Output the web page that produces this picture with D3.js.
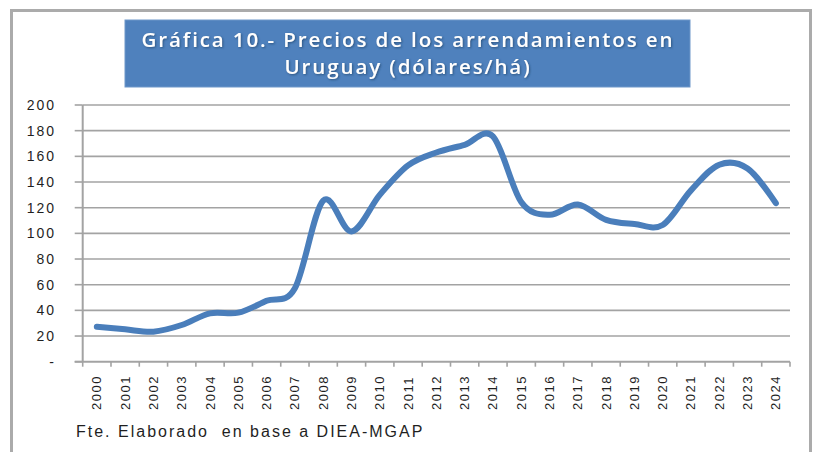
<!DOCTYPE html>
<html>
<head>
<meta charset="utf-8">
<script src="https://cdn.jsdelivr.net/npm/d3@7"></script>
<style>
  html, body { margin: 0; padding: 0; background: #fff; }
  svg { display: block; }
</style>
</head>
<body>
<svg id="chart" width="816" height="452"></svg>
<script>
"use strict";

// chart data
const titleLines = ["Gráfica 10.- Precios de los arrendamientos en", "Uruguay (dólares/há)"];
const sourceNote = "Fte. Elaborado  en base a DIEA-MGAP";
const years = ["2000", "2001", "2002", "2003", "2004", "2005", "2006", "2007", "2008", "2009",
    "2010", "2011", "2012", "2013", "2014", "2015", "2016", "2017", "2018", "2019",
    "2020", "2021", "2022", "2023", "2024"];
const prices = [27.3, 25.2, 23.4, 28.6, 37.7, 38.2, 47.5, 57.2, 125.5, 101.5,
    130, 153, 163, 169, 175.5, 124.5, 114.5, 122.5, 110.5, 107.3,
    106.5, 133.5, 153.5, 150.5, 123.5];
const yTicks = [0, 20, 40, 60, 80, 100, 120, 140, 160, 180, 200];
const yTickLabels = ["-", "20", "40", "60", "80", "100", "120", "140", "160", "180", "200"];

const svg = d3.select("#chart");

const plot = {left: 82.7, right: 790, top: 105, bottom: 361.7};

const x = d3.scaleBand()
    .domain(years)
    .range([plot.left, plot.right]);

const y = d3.scaleLinear()
    .domain([0, 200])
    .range([plot.bottom, plot.top]);

const defs = svg.append("defs");
defs.append("filter")
    .attr("id", "title-shadow")
    .attr("x", "-5%").attr("y", "-20%")
    .attr("width", "110%").attr("height", "140%")
    .append("feDropShadow")
    .attr("dx", 1)
    .attr("dy", 1)
    .attr("stdDeviation", 0.8)
    .attr("flood-color", "#24466f")
    .attr("flood-opacity", 0.8);

// outer frame
svg.append("rect")
    .attr("x", 11.5)
    .attr("y", 10.5)
    .attr("width", 799)
    .attr("height", 470)
    .attr("fill", "none")
    .attr("stroke", "#ababab")
    .attr("stroke-width", 3);

// title box
svg.append("rect")
    .attr("x", 125)
    .attr("y", 20)
    .attr("width", 565)
    .attr("height", 67)
    .attr("fill", "#4f81bd")
    .attr("stroke", "#6f97c9")
    .attr("stroke-width", 1);

svg.append("g")
    .attr("font-family", "'Open Sans', 'DejaVu Sans', sans-serif")
    .attr("font-size", 20.5)
    .attr("font-weight", 600)
    .attr("letter-spacing", 1.9)
    .attr("text-anchor", "middle")
    .attr("fill", "#ffffff")
    .attr("filter", "url(#title-shadow)")
    .selectAll("text")
    .data(titleLines)
    .join("text")
    .attr("x", 408)
    .attr("y", (d, i) => 47 + i * 27)
    .text(d => d);

// gridlines
svg.append("g")
    .selectAll("line")
    .data(yTicks.filter(d => d > 0))
    .join("line")
    .attr("x1", plot.left)
    .attr("x2", plot.right)
    .attr("y1", d => y(d))
    .attr("y2", d => y(d))
    .attr("stroke", "#a3a3a3")
    .attr("stroke-width", 1.6);

// y axis line and ticks
svg.append("line")
    .attr("x1", plot.left)
    .attr("x2", plot.left)
    .attr("y1", plot.top)
    .attr("y2", plot.bottom)
    .attr("stroke", "#a3a3a3")
    .attr("stroke-width", 2);

svg.append("g")
    .selectAll("line")
    .data(yTicks)
    .join("line")
    .attr("x1", plot.left - 8)
    .attr("x2", plot.left)
    .attr("y1", d => y(d))
    .attr("y2", d => y(d))
    .attr("stroke", "#a3a3a3")
    .attr("stroke-width", 1.6);

// labels right-aligned to x = 56, measured so letter spacing can't shift them
const labelRight = 56;
svg.append("g")
    .attr("font-family", "'Liberation Sans', Arial, sans-serif")
    .attr("font-size", 14)
    .attr("letter-spacing", 2)
    .attr("fill", "#1f1f1f")
    .selectAll("text")
    .data(yTicks)
    .join("text")
    .attr("y", d => y(d))
    .attr("dy", "0.35em")
    .text((d, i) => yTickLabels[i])
    .attr("x", function () {
        return labelRight - this.getComputedTextLength();
    });

// x axis
svg.append("line")
    .attr("x1", plot.left - 8)
    .attr("x2", plot.right)
    .attr("y1", plot.bottom)
    .attr("y2", plot.bottom)
    .attr("stroke", "#a3a3a3")
    .attr("stroke-width", 2);

const xEdges = years.map(d => x(d)).concat([plot.right]);
svg.append("g")
    .selectAll("line")
    .data(xEdges)
    .join("line")
    .attr("x1", d => d)
    .attr("x2", d => d)
    .attr("y1", plot.bottom)
    .attr("y2", plot.bottom + 5)
    .attr("stroke", "#a3a3a3")
    .attr("stroke-width", 1.6);

svg.append("g")
    .attr("font-family", "'Liberation Sans', Arial, sans-serif")
    .attr("font-size", 13)
    .attr("letter-spacing", 1.5)
    .attr("fill", "#1f1f1f")
    .selectAll("text")
    .data(years)
    .join("text")
    .attr("transform", d => `translate(${x(d) + x.bandwidth() / 2},410) rotate(-90)`)
    .attr("dominant-baseline", "central")
    .attr("text-anchor", "start")
    .text(d => d);

// price line
const line = d3.line()
    .x((d, i) => x(years[i]) + x.bandwidth() / 2)
    .y(d => y(d))
    .curve(d3.curveCatmullRom.alpha(0));

svg.append("path")
    .datum(prices)
    .attr("d", line)
    .attr("fill", "none")
    .attr("stroke", "#4a7ebb")
    .attr("stroke-width", 6)
    .attr("stroke-linejoin", "round")
    .attr("stroke-linecap", "round");

// source note
svg.append("text")
    .attr("x", 76)
    .attr("y", 437)
    .attr("font-family", "'Liberation Sans', Arial, sans-serif")
    .attr("font-size", 16)
    .attr("letter-spacing", 2)
    .attr("fill", "#1f1f1f")
    .style("white-space", "pre")
    .text(sourceNote);
</script>
</body>
</html>
